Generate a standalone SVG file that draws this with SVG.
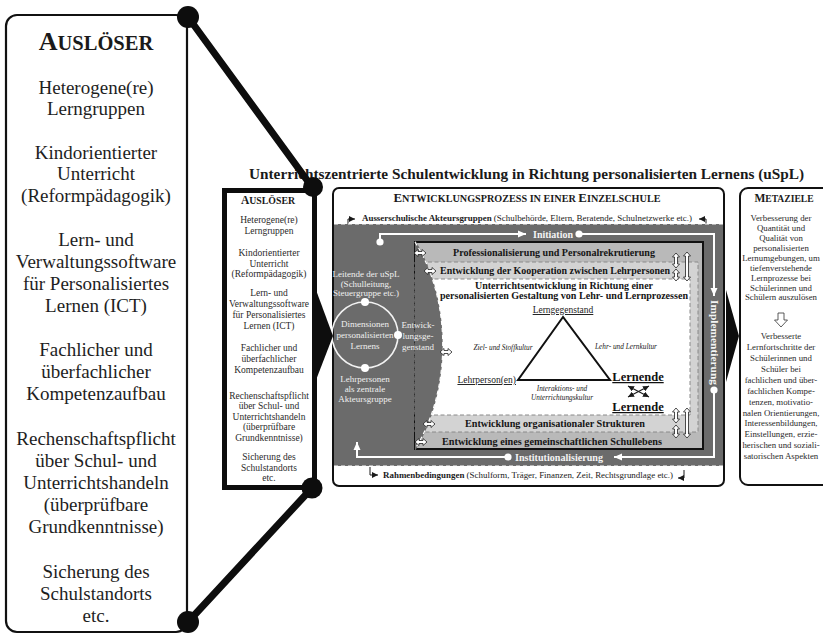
<svg xmlns="http://www.w3.org/2000/svg" width="823" height="637" viewBox="0 0 823 637">
  <defs>
    <marker id="ah-w" markerUnits="userSpaceOnUse" markerWidth="9" markerHeight="8" refX="8" refY="4" orient="auto">
      <path d="M0,0.5 L8,4 L0,7.5 z" fill="#ffffff"/>
    </marker>
    <marker id="ah-k" markerUnits="userSpaceOnUse" markerWidth="7" markerHeight="6" refX="6" refY="3" orient="auto-start-reverse">
      <path d="M0,0 L6,3 L0,6 z" fill="#1a1a1a"/>
    </marker>
    <path id="dh" d="M-6,0 L-2,-3.5 V-1.5 H2 V-3.5 L6,0 L2,3.5 V1.5 H-2 V3.5 Z" fill="#ffffff" stroke="#222" stroke-width="0.8"/>
  </defs>
  <style>
    text { font-family: "Liberation Serif", "Times New Roman", serif; }
    .big { font-size: 19px; fill: #1e1e1e; text-anchor: middle; }
    .sm { font-size: 9.5px; fill: #2a2a2a; text-anchor: middle; }
    .mz { font-size: 8.8px; fill: #2a2a2a; text-anchor: middle; }
    .wt { font-size: 9px; fill: #f0f0f0; text-anchor: middle; }
    .bar { font-size: 10px; font-weight: bold; fill: #151515; text-anchor: middle; }
    .flowtxt { font-size: 10px; font-weight: bold; fill: #f4f4f4; text-anchor: middle; }
    .flow { fill: none; stroke: #ffffff; stroke-width: 2; }
    .it { font-size: 7.3px; font-style: italic; fill: #222; text-anchor: middle; }
    .hd { font-weight: bold; fill: #1a1a1a; text-anchor: middle; }
    .dashw { fill: none; stroke: #ffffff; stroke-width: 1.2; stroke-dasharray: 4 3; }
    .dashg { stroke: #8a8a8a; stroke-width: 1; stroke-dasharray: 4 2.5; }
    .frame { fill: #ffffff; stroke: #111; stroke-width: 2; }
    .link { stroke: #0d0d0d; stroke-width: 7; stroke-linecap: round; }
    .icon { fill: none; stroke: #1a1a1a; stroke-width: 1; }
  </style>

  <rect width="823" height="637" fill="#ffffff"/>

  <!-- heading -->
  <g id="title">
    <text x="526.5" y="179" font-size="15" class="hd" textLength="555" lengthAdjust="spacingAndGlyphs">Unterrichtszentrierte Schulentwicklung in Richtung personalisierten Lernens (uSpL)</text>
  </g>

  <!-- enlarged list of triggers -->
  <g id="ausloeser-detail">
    <rect x="6" y="15" width="181" height="617" rx="11" fill="#ffffff" stroke="#111" stroke-width="2.2"/>
    <text x="96" y="50" class="hd"><tspan font-size="26">A</tspan><tspan font-size="20.5">USLÖSER</tspan></text>
    <text class="big" x="96" y="94">Heterogene(re)</text>
    <text class="big" x="96" y="115">Lerngruppen</text>
    <text class="big" x="96" y="159">Kindorientierter</text>
    <text class="big" x="96" y="180">Unterricht</text>
    <text class="big" x="96" y="202">(Reformpädagogik)</text>
    <text class="big" x="96" y="246">Lern- und</text>
    <text class="big" x="96" y="268">Verwaltungssoftware</text>
    <text class="big" x="96" y="290">für Personalisiertes</text>
    <text class="big" x="96" y="312">Lernen (ICT)</text>
    <text class="big" x="96" y="356">Fachlicher und</text>
    <text class="big" x="96" y="378">überfachlicher</text>
    <text class="big" x="96" y="400">Kompetenzaufbau</text>
    <text class="big" x="96" y="445">Rechenschaftspflicht</text>
    <text class="big" x="96" y="467">über Schul- und</text>
    <text class="big" x="96" y="489">Unterrichtshandeln</text>
    <text class="big" x="96" y="511">(überprüfbare</text>
    <text class="big" x="96" y="533">Grundkenntnisse)</text>
    <text class="big" x="96" y="578">Sicherung des</text>
    <text class="big" x="96" y="600">Schulstandorts</text>
    <text class="big" x="96" y="622">etc.</text>
  </g>

  <!-- compact list of triggers -->
  <g id="ausloeser">
    <rect x="224.5" y="190.5" width="90" height="297" fill="#ffffff" stroke="#0d0d0d" stroke-width="5"/>
    <text x="268" y="204" class="hd"><tspan font-size="11.5">A</tspan><tspan font-size="9.8">USLÖSER</tspan></text>
    <text class="sm" x="269" y="223">Heterogene(re)</text>
    <text class="sm" x="269" y="234">Lerngruppen</text>
    <text class="sm" x="269" y="256">Kindorientierter</text>
    <text class="sm" x="269" y="266.5">Unterricht</text>
    <text class="sm" x="269" y="277">(Reformpädagogik)</text>
    <text class="sm" x="269" y="296">Lern- und</text>
    <text class="sm" x="269" y="307">Verwaltungssoftware</text>
    <text class="sm" x="269" y="318">für Personalisiertes</text>
    <text class="sm" x="269" y="329">Lernen (ICT)</text>
    <text class="sm" x="269" y="351">Fachlicher und</text>
    <text class="sm" x="269" y="362">überfachlicher</text>
    <text class="sm" x="269" y="373">Kompetenzaufbau</text>
    <text class="sm" x="269" y="398.5">Rechenschaftspflicht</text>
    <text class="sm" x="269" y="409">über Schul- und</text>
    <text class="sm" x="269" y="419.5">Unterrichtshandeln</text>
    <text class="sm" x="269" y="430">(überprüfbare</text>
    <text class="sm" x="269" y="440.5">Grundkenntnisse)</text>
    <text class="sm" x="269" y="460">Sicherung des</text>
    <text class="sm" x="269" y="470.5">Schulstandorts</text>
    <text class="sm" x="269" y="481">etc.</text>
  </g>

  <!-- development process in a single school -->
  <g id="prozess">
    <rect x="333" y="188" width="391" height="298" rx="6" class="frame"/>
    <text x="527" y="202" class="hd" textLength="267" lengthAdjust="spacingAndGlyphs"><tspan font-size="12">E</tspan><tspan font-size="9.5">NTWICKLUNGSPROZESS IN EINER </tspan><tspan font-size="12">E</tspan><tspan font-size="9.5">INZELSCHULE</tspan></text>
    <text x="527" y="221" font-size="8.7" fill="#1a1a1a" text-anchor="middle" textLength="330" lengthAdjust="spacingAndGlyphs"><tspan font-weight="bold">Ausserschulische Akteursgruppen</tspan> (Schulbehörde, Eltern, Beratende, Schulnetzwerke etc.)</text>
    <path class="icon" d="M348,224 V219 H355" marker-end="url(#ah-k)"/>
    <path class="icon" d="M706,225 V219 H699" marker-end="url(#ah-k)"/>

    <!-- dark field of in-school actors -->
    <rect x="334" y="224" width="389" height="242" fill="#6b6b6b"/>
    <line x1="334" y1="224" x2="723" y2="224" class="dashw"/>
    <line x1="334" y1="466" x2="723" y2="466" class="dashw"/>

    <!-- nested development fields -->
    <rect x="415" y="242" width="288" height="207" fill="#b9b9b9" stroke="#111" stroke-width="2"/>
    <rect x="415" y="262" width="283" height="170" fill="#d3d3d3" class="dashg"/>
    <rect x="415" y="279" width="275" height="136" fill="#ffffff" class="dashg"/>

    <text class="bar" x="554" y="256" textLength="202" lengthAdjust="spacingAndGlyphs">Professionalisierung und Personalrekrutierung</text>
    <text class="bar" x="555" y="273.5" textLength="230" lengthAdjust="spacingAndGlyphs">Entwicklung der Kooperation zwischen Lehrpersonen</text>
    <text class="bar" x="564" y="288.5" textLength="178" lengthAdjust="spacingAndGlyphs">Unterrichtsentwicklung in Richtung einer</text>
    <text class="bar" x="564" y="299" textLength="248" lengthAdjust="spacingAndGlyphs">personalisierten Gestaltung von Lehr- und Lernprozessen</text>
    <text class="bar" x="555" y="426.5" textLength="180" lengthAdjust="spacingAndGlyphs">Entwicklung organisationaler Strukturen</text>
    <text class="bar" x="552" y="444.5" textLength="220" lengthAdjust="spacingAndGlyphs">Entwicklung eines gemeinschaftlichen Schullebens</text>

    <!-- didactic triangle -->
    <polygon points="563,317 518,380 610,380" fill="none" stroke="#111" stroke-width="2"/>
    <text x="563" y="313" font-size="9.5" fill="#1a1a1a" text-anchor="middle" text-decoration="underline">Lerngegenstand</text>
    <text x="516" y="383" font-size="9.5" fill="#1a1a1a" text-anchor="end" text-decoration="underline">Lehrperson(en)</text>
    <text class="it" x="503" y="350">Ziel- und Stoffkultur</text>
    <text class="it" x="626" y="349">Lehr- und Lernkultur</text>
    <text class="it" x="562" y="391">Interaktions- und</text>
    <text class="it" x="562" y="400">Unterrichtungskultur</text>
    <text x="638" y="381" font-size="12.5" font-weight="bold" fill="#111" text-anchor="middle" text-decoration="underline">Lernende</text>
    <text x="638" y="411" font-size="12.5" font-weight="bold" fill="#111" text-anchor="middle" text-decoration="underline">Lernende</text>
    <line x1="628" y1="386" x2="649" y2="397" stroke="#1a1a1a" stroke-width="1.1" marker-start="url(#ah-k)" marker-end="url(#ah-k)"/>
    <line x1="628" y1="397" x2="649" y2="386" stroke="#1a1a1a" stroke-width="1.1" marker-start="url(#ah-k)" marker-end="url(#ah-k)"/>

    <!-- bulge of the in-school actors -->
    <path d="M415,240 C452,300 452,390 415,451 Z" fill="#6b6b6b"/>
    <path d="M415,242 C452,300 452,390 415,449" class="dashw"/>

    <!-- dimensions circle -->
    <circle cx="365" cy="335" r="33" fill="none" stroke="#f2f2f2" stroke-width="1.6"/>
    <circle cx="365" cy="302" r="4" fill="#ffffff"/>
    <circle cx="398" cy="335" r="4" fill="#ffffff"/>
    <circle cx="365" cy="368" r="4" fill="#ffffff"/>
    <text class="wt" x="366" y="277">Leitende der uSpL</text>
    <text class="wt" x="366" y="287">(Schulleitung,</text>
    <text class="wt" x="366" y="296">Steuergruppe etc.)</text>
    <text class="wt" x="365" y="327">Dimensionen</text>
    <text class="wt" x="365" y="338">personalisierten</text>
    <text class="wt" x="365" y="349">Lernens</text>
    <text class="wt" x="418" y="328">Entwick-</text>
    <text class="wt" x="418" y="339">lungsge-</text>
    <text class="wt" x="418" y="350">genstand</text>
    <text class="wt" x="365" y="382">Lehrpersonen</text>
    <text class="wt" x="365" y="392">als zentrale</text>
    <text class="wt" x="365" y="402">Akteursgruppe</text>

    <!-- exchange arrows on the border -->
    <use href="#dh" x="420" y="253"/>
    <use href="#dh" x="430" y="271"/>
    <use href="#dh" x="446" y="352"/>
    <use href="#dh" x="429" y="424"/>
    <use href="#dh" x="421" y="442"/>
    <g fill="#ffffff" stroke="#222" stroke-width="0.8">
      <polygon points="676,253 679.5,257 677.5,257 677.5,264 679.5,264 676,268 672.5,264 674.5,264 674.5,257 672.5,257"/>
      <polygon points="676,269 679.5,273 677.5,273 677.5,277 679.5,277 676,281 672.5,277 674.5,277 674.5,273 672.5,273"/>
      <polygon points="687,252 690.5,256 688.5,256 688.5,277 690.5,277 687,281 683.5,277 685.5,277 685.5,256 683.5,256"/>
      <polygon points="676,408 679.5,412 677.5,412 677.5,419 679.5,419 676,423 672.5,419 674.5,419 674.5,412 672.5,412"/>
      <polygon points="676,425 679.5,429 677.5,429 677.5,434 679.5,434 676,438 672.5,434 674.5,434 674.5,429 672.5,429"/>
      <polygon points="687,408 690.5,412 688.5,412 688.5,434 690.5,434 687,438 683.5,434 685.5,434 685.5,412 683.5,412"/>
    </g>

    <!-- phase cycle -->
    <path class="flow" d="M380,242 V234 H526" marker-end="url(#ah-w)"/>
    <text class="flowtxt" x="553" y="238" textLength="40" lengthAdjust="spacingAndGlyphs">Initiation</text>
    <path class="flow" d="M579,234 H714 V296" marker-end="url(#ah-w)"/>
    <text class="flowtxt" transform="translate(710.5,342.5) rotate(90)" textLength="85" lengthAdjust="spacingAndGlyphs">Implementierung</text>
    <path class="flow" d="M714,390 V457 H614" marker-end="url(#ah-w)"/>
    <text class="flowtxt" x="559" y="461" textLength="88" lengthAdjust="spacingAndGlyphs">Institutionalisierung</text>
    <path class="flow" d="M508,457 H357 V442" marker-end="url(#ah-w)"/>
    <circle cx="380" cy="242" r="3.6" fill="#ffffff"/>
    <circle cx="579" cy="234" r="3.6" fill="#ffffff"/>
    <circle cx="714" cy="390" r="3.6" fill="#ffffff"/>
    <circle cx="508" cy="457" r="3.6" fill="#ffffff"/>

    <text x="528" y="478" font-size="8.7" fill="#1a1a1a" text-anchor="middle" textLength="290" lengthAdjust="spacingAndGlyphs"><tspan font-weight="bold">Rahmenbedingungen</tspan> (Schulform, Träger, Finanzen, Zeit, Rechtsgrundlage etc.)</text>
    <path class="icon" d="M370,467 V475 H378" marker-end="url(#ah-k)"/>
    <path class="icon" d="M684,470 V478 H678" marker-end="url(#ah-k)"/>
  </g>

  <!-- meta goals -->
  <g id="metaziele">
    <rect x="740" y="188" width="100" height="297" rx="8" fill="#ffffff" stroke="#111" stroke-width="2"/>
    <text x="784" y="202" class="hd"><tspan font-size="11.5">M</tspan><tspan font-size="9.6">ETAZIELE</tspan></text>
    <text class="mz" x="781" y="221">Verbesserung der</text>
    <text class="mz" x="781" y="231">Quantität und</text>
    <text class="mz" x="781" y="241">Qualität von</text>
    <text class="mz" x="781" y="251">personalisierten</text>
    <text class="mz" x="781" y="261">Lernumgebungen, um</text>
    <text class="mz" x="781" y="271">tiefenverstehende</text>
    <text class="mz" x="781" y="281">Lernprozesse bei</text>
    <text class="mz" x="781" y="290.5">Schülerinnen und</text>
    <text class="mz" x="781" y="300">Schülern auszulösen</text>
    <path d="M778,313 H784 V320 H787.5 L781,327 L774.5,320 H778 Z" fill="#ffffff" stroke="#333" stroke-width="0.8"/>
    <text class="mz" x="781" y="339">Verbesserte</text>
    <text class="mz" x="781" y="350">Lernfortschritte der</text>
    <text class="mz" x="781" y="361">Schülerinnen und</text>
    <text class="mz" x="781" y="372">Schüler bei</text>
    <text class="mz" x="781" y="383">fachlichen und über-</text>
    <text class="mz" x="781" y="394">fachlichen Kompe-</text>
    <text class="mz" x="781" y="404.5">tenzen, motivatio-</text>
    <text class="mz" x="781" y="415.5">nalen Orientierungen,</text>
    <text class="mz" x="781" y="426">Interessenbildungen,</text>
    <text class="mz" x="781" y="437">Einstellungen, erzie-</text>
    <text class="mz" x="781" y="448">herischen und soziali-</text>
    <text class="mz" x="781" y="459">satorischen Aspekten</text>
  </g>

  <!-- connectors -->
  <g id="connectors">
    <polygon points="316,290 333,336 316,380" fill="#0d0d0d"/>
    <polygon points="726,290 739,336 726,382" fill="#0d0d0d"/>
    <line class="link" x1="188" y1="17" x2="312" y2="187"/>
    <line class="link" x1="188" y1="622" x2="312" y2="488"/>
    <circle cx="188" cy="17" r="11" fill="#0d0d0d"/>
    <circle cx="313" cy="187" r="10" fill="#0d0d0d"/>
    <circle cx="188" cy="622" r="11" fill="#0d0d0d"/>
    <circle cx="312" cy="488" r="10.5" fill="#0d0d0d"/>
  </g>
</svg>
